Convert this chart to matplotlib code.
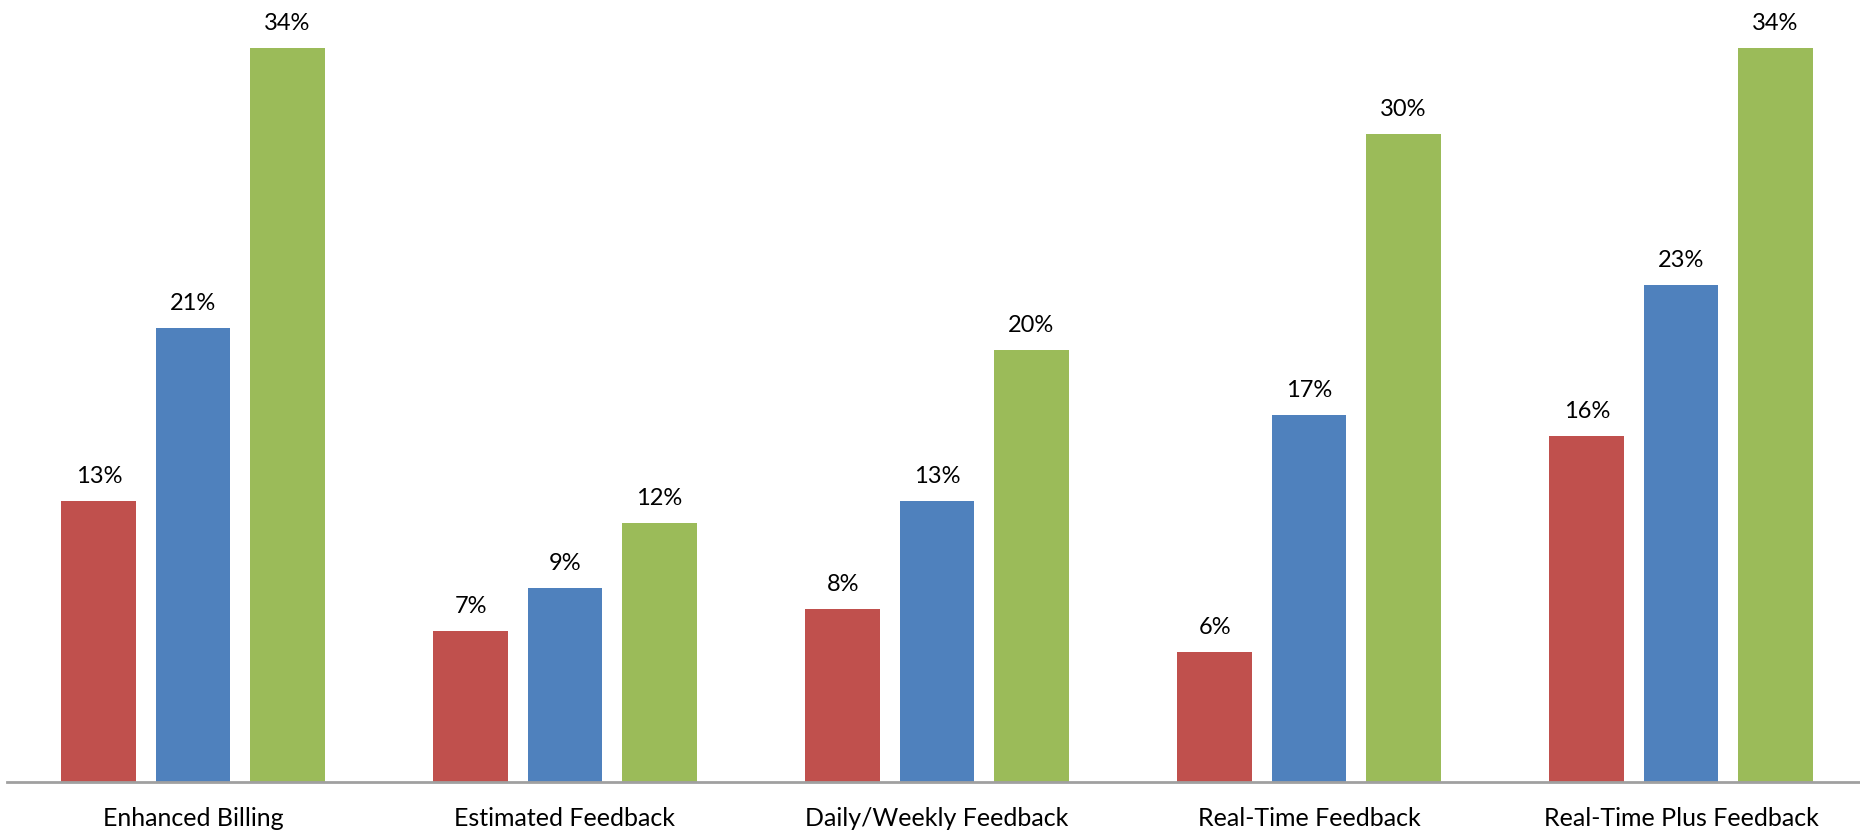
import numpy as np
import matplotlib.pyplot as plt

categories = ["Enhanced Billing", "Estimated Feedback", "Daily/Weekly Feedback",
              "Real-Time Feedback", "Real-Time Plus Feedback"]
red_vals = [13, 7, 8, 6, 16]
blue_vals = [21, 9, 13, 17, 23]
green_vals = [34, 12, 20, 30, 34]

colors = ["#C0504D", "#4F81BD", "#9BBB59"]

plt.rcParams['font.family'] = ['Lato', 'DejaVu Sans']

fig = plt.figure(figsize=(18.6, 8.3), dpi=100)
ax = fig.add_axes([7 / 1860, 48 / 830, 1.0, 782 / 830])

x = np.arange(len(categories))
width = 0.2016
step = 0.2527

for i, (vals, c) in enumerate(zip([red_vals, blue_vals, green_vals], colors)):
    bars = ax.bar(x + (i - 1) * step, vals, width, color=c)
    ax.bar_label(bars, labels=[f"{v}%" for v in vals], padding=10, fontsize=17)

ax.set_xlim(-0.5, 4.5)
ax.set_ylim(0, 36.2)
ax.set_xticks(x)
ax.set_xticklabels(categories, fontsize=18)
ax.tick_params(axis='x', length=0, pad=18)
ax.set_yticks([])

for side in ['top', 'right', 'left']:
    ax.spines[side].set_visible(False)
ax.spines['bottom'].set_color('#A0A0A0')
ax.spines['bottom'].set_linewidth(2)

fig.savefig('out.png', dpi=100)
